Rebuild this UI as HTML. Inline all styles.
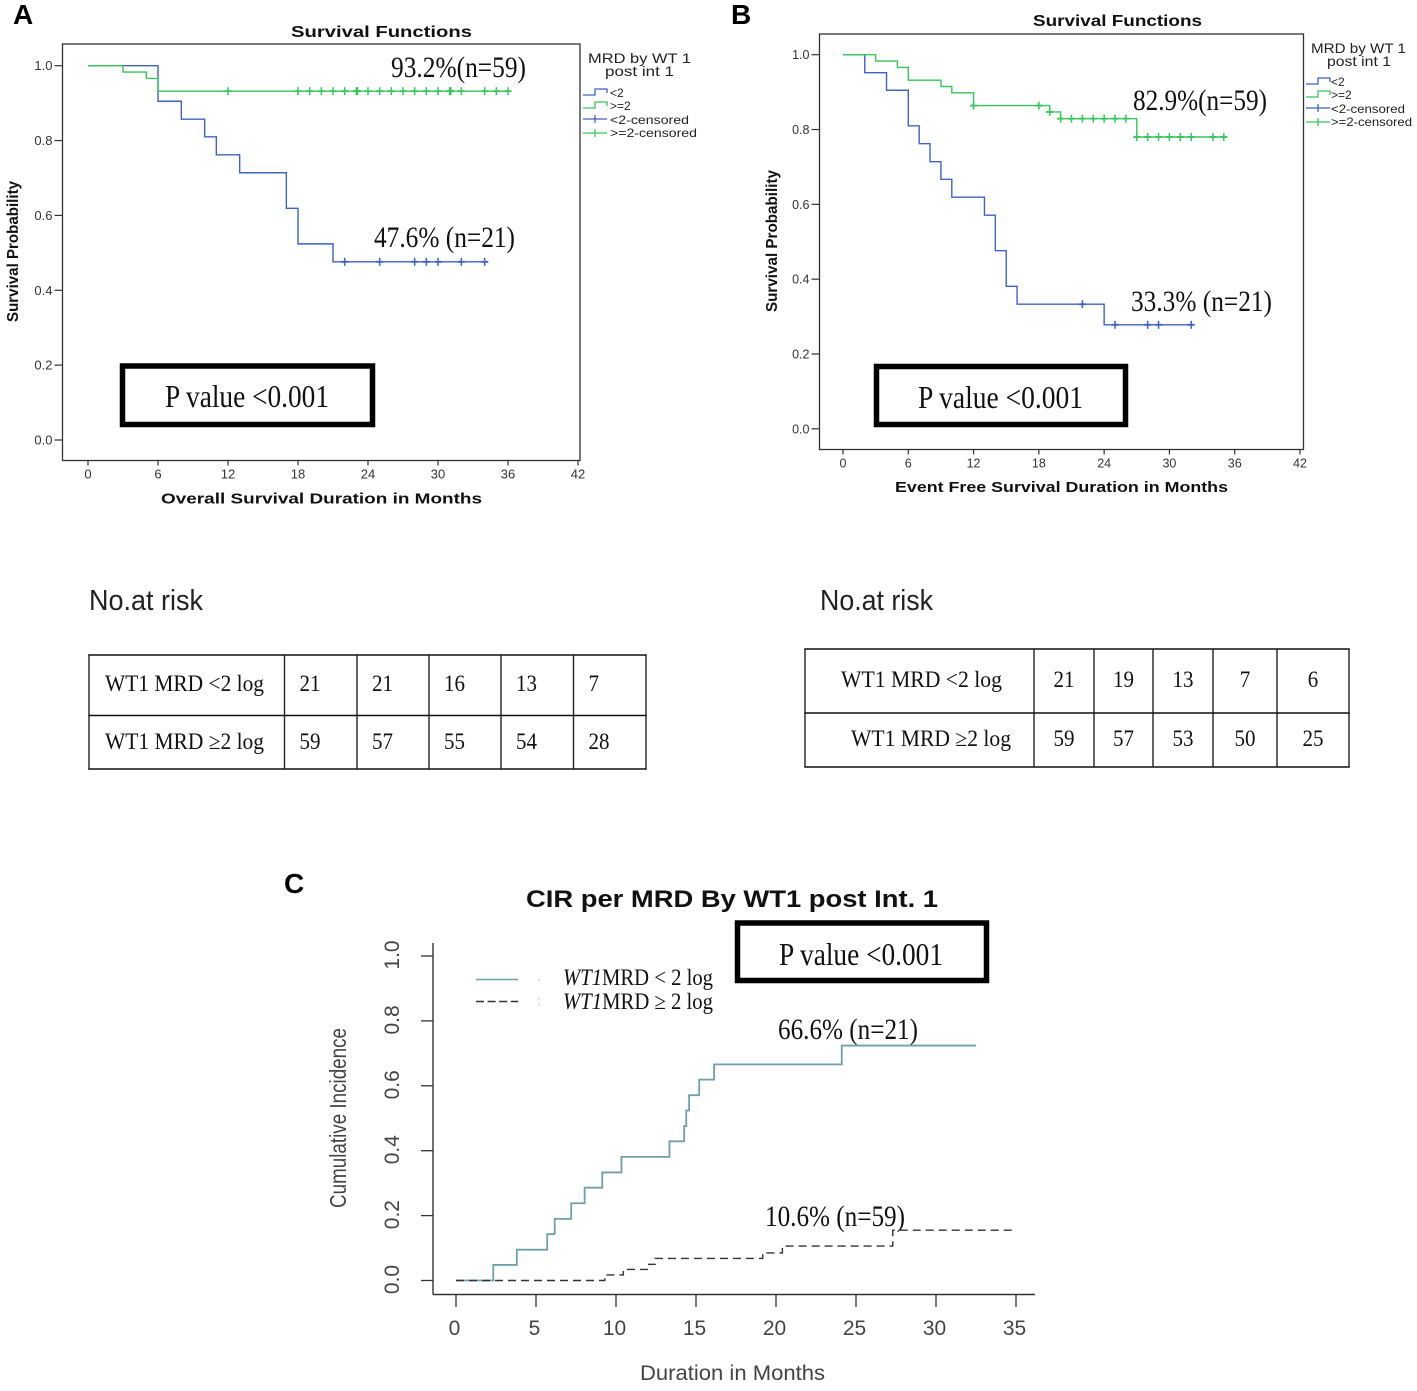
<!DOCTYPE html>
<html lang="en">
<head>
<meta charset="utf-8">
<title>Survival and cumulative incidence by WT1 MRD</title>
<style>
html,body{margin:0;padding:0;background:#fff;width:1417px;height:1391px;overflow:hidden}
svg{display:block}
text{font-family:"Liberation Sans",sans-serif;fill:#111}
.serif{font-family:"Liberation Serif",serif}
.b{font-weight:bold}
.leg{font-size:12px;fill:#222}
.legt{font-size:14px;fill:#222}
</style>
</head>
<body>
<svg id="page" xmlns="http://www.w3.org/2000/svg" width="1417" height="1391" viewBox="0 0 1417 1391">
  <rect x="0" y="0" width="1417" height="1391" fill="#fff"/>

  <!-- Panel A -->
  <g id="panelA">
    <text class="b" x="13" y="24" font-size="28" style="fill:#000">A</text>
    <text class="b" x="291" y="37" font-size="16" textLength="181" lengthAdjust="spacingAndGlyphs">Survival Functions</text>
    <rect x="62.5" y="44" width="517.5" height="416.5" fill="none" stroke="#333" stroke-width="1.3"/>
    <text class="b" x="161" y="503.5" font-size="15" textLength="321" lengthAdjust="spacingAndGlyphs">Overall Survival Duration in Months</text>
    <text class="b" transform="translate(18,322) rotate(-90)" font-size="16" textLength="141" lengthAdjust="spacingAndGlyphs">Survival Probability</text>
    <text class="serif" x="391" y="77" font-size="30" textLength="135" lengthAdjust="spacingAndGlyphs">93.2%(n=59)</text>
    <text class="serif" x="374" y="247" font-size="30" textLength="141" lengthAdjust="spacingAndGlyphs">47.6% (n=21)</text>
    <rect x="122.5" y="366" width="250" height="58.5" fill="#fff" stroke="#000" stroke-width="5.5"/>
    <text class="serif" x="165" y="407" font-size="32" textLength="164" lengthAdjust="spacingAndGlyphs">P value &lt;0.001</text>
    <text class="legt" x="588" y="63" textLength="103" lengthAdjust="spacingAndGlyphs">MRD by WT 1</text>
    <text class="legt" x="605" y="76" textLength="69" lengthAdjust="spacingAndGlyphs">post int 1</text>
    <text class="leg" x="610" y="97">&lt;2</text>
    <text class="leg" x="610" y="110">&gt;=2</text>
    <text class="leg" x="610" y="124" textLength="79" lengthAdjust="spacingAndGlyphs">&lt;2-censored</text>
    <text class="leg" x="610" y="137" textLength="87" lengthAdjust="spacingAndGlyphs">&gt;=2-censored</text>
  </g>

  <!-- Panel B -->
  <g id="panelB">
    <text class="b" x="731" y="24" font-size="28" style="fill:#000">B</text>
    <text class="b" x="1033" y="26" font-size="16" textLength="169" lengthAdjust="spacingAndGlyphs">Survival Functions</text>
    <rect x="819.5" y="34" width="484" height="415.5" fill="none" stroke="#333" stroke-width="1.3"/>
    <text class="b" x="895" y="492" font-size="15" textLength="333" lengthAdjust="spacingAndGlyphs">Event Free Survival Duration in Months</text>
    <text class="b" transform="translate(777,312) rotate(-90)" font-size="16" textLength="142" lengthAdjust="spacingAndGlyphs">Survival Probability</text>
    <text class="serif" x="1133" y="110" font-size="30" textLength="134" lengthAdjust="spacingAndGlyphs">82.9%(n=59)</text>
    <text class="serif" x="1131" y="311" font-size="30" textLength="141" lengthAdjust="spacingAndGlyphs">33.3% (n=21)</text>
    <rect x="876.5" y="366.5" width="249" height="58" fill="#fff" stroke="#000" stroke-width="5.5"/>
    <text class="serif" x="918" y="408" font-size="32" textLength="165" lengthAdjust="spacingAndGlyphs">P value &lt;0.001</text>
    <text class="legt" x="1311" y="53" textLength="95" lengthAdjust="spacingAndGlyphs">MRD by WT 1</text>
    <text class="legt" x="1327" y="66" textLength="64" lengthAdjust="spacingAndGlyphs">post int 1</text>
    <text class="leg" x="1331" y="86">&lt;2</text>
    <text class="leg" x="1331" y="99">&gt;=2</text>
    <text class="leg" x="1331" y="113" textLength="74" lengthAdjust="spacingAndGlyphs">&lt;2-censored</text>
    <text class="leg" x="1331" y="126" textLength="81" lengthAdjust="spacingAndGlyphs">&gt;=2-censored</text>
  </g>

  <!-- Tables -->
  <g id="tables">
    <text x="89" y="610" font-size="29" textLength="114" lengthAdjust="spacingAndGlyphs" style="fill:#222">No.at risk</text>
    <text x="820" y="610" font-size="29" textLength="113" lengthAdjust="spacingAndGlyphs" style="fill:#222">No.at risk</text>
    <text class="serif" x="105" y="691" font-size="23" textLength="159" lengthAdjust="spacingAndGlyphs">WT1 MRD &lt;2 log</text>
    <text class="serif" x="105" y="749" font-size="23" textLength="159" lengthAdjust="spacingAndGlyphs">WT1 MRD ≥2 log</text>
    <text class="serif" x="841" y="687" font-size="23" textLength="161" lengthAdjust="spacingAndGlyphs">WT1 MRD &lt;2 log</text>
    <text class="serif" x="851" y="746" font-size="23" textLength="160" lengthAdjust="spacingAndGlyphs">WT1 MRD ≥2 log</text>
  </g>

  <!-- Panel C -->
  <g id="panelC">
    <text class="b" x="284" y="893" font-size="28" style="fill:#000">C</text>
    <text class="b" x="526" y="907" font-size="24" textLength="412" lengthAdjust="spacingAndGlyphs">CIR per MRD By WT1 post Int. 1</text>
    <rect x="737.5" y="923" width="249" height="57.5" fill="#fff" stroke="#000" stroke-width="5.5"/>
    <text class="serif" x="779" y="965" font-size="32" textLength="164" lengthAdjust="spacingAndGlyphs">P value &lt;0.001</text>
    <text x="640" y="1380" font-size="21" textLength="185" lengthAdjust="spacingAndGlyphs" style="fill:#444">Duration in Months</text>
    <text transform="translate(346,1208) rotate(-90)" font-size="23" textLength="180" lengthAdjust="spacingAndGlyphs" style="fill:#444">Cumulative Incidence</text>
    <line x1="476" y1="979.5" x2="518" y2="979.5" stroke="#6f9fa8" stroke-width="1.6"/>
    <line x1="476" y1="1001.5" x2="518" y2="1001.5" stroke="#333" stroke-width="1.4" stroke-dasharray="8 3.6"/>
    <rect x="538.5" y="979" width="1.2" height="1.2" fill="#aaa"/>
    <rect x="538.5" y="998" width="1.2" height="1.2" fill="#aaa"/>
    <rect x="538.5" y="1004" width="1.2" height="1.2" fill="#aaa"/>
    <text class="serif" x="563" y="985" font-size="23" textLength="150" lengthAdjust="spacingAndGlyphs"><tspan font-style="italic">WT1</tspan>MRD &lt; 2 log</text>
    <text class="serif" x="563" y="1009" font-size="23" textLength="150" lengthAdjust="spacingAndGlyphs"><tspan font-style="italic">WT1</tspan>MRD ≥ 2 log</text>
    <text class="serif" x="778" y="1039" font-size="30" textLength="140" lengthAdjust="spacingAndGlyphs">66.6% (n=21)</text>
    <text class="serif" x="765" y="1226" font-size="30" textLength="140" lengthAdjust="spacingAndGlyphs">10.6% (n=59)</text>
  </g>
</svg>

<script>
// ---- Panel A data (overall survival) ----
const aLowTimes = [0, 6, 8, 10, 11, 13, 17, 18, 21];
const aLowValues = [1, 0.905, 0.857, 0.81, 0.762, 0.714, 0.619, 0.524, 0.476];
const aLowEnd = 34.3;
const aLowCensored = [22, 25, 28, 29, 30, 32, 34];
const aHighTimes = [0, 3, 5, 6];
const aHighValues = [1, 0.983, 0.966, 0.932];
const aHighEnd = 36.2;
const aHighCensored = [12, 18, 19, 20, 21, 22, 23, 23.1, 24, 25, 26, 27, 28, 29, 30, 31, 31.1, 32, 34, 35, 36];

// ---- Panel B data (event free survival) ----
const bLowTimes = [0, 2, 4, 6, 7, 8, 9, 10, 13, 14, 15, 16, 24];
const bLowValues = [1, 0.952, 0.905, 0.81, 0.762, 0.714, 0.667, 0.619, 0.571, 0.476, 0.381, 0.333, 0.278];
const bLowEnd = 32.3;
const bLowCensored = [22, 25, 28, 29, 32];
const bHighTimes = [0, 3, 5, 6, 9, 10, 12, 19, 20, 27];
const bHighValues = [1, 0.983, 0.966, 0.932, 0.915, 0.898, 0.864, 0.847, 0.829, 0.78];
const bHighEnd = 35.3;
const bHighCensored = [12, 18, 19, 20, 21, 22, 23, 24, 25, 26, 27, 28, 29, 30, 31, 32, 34, 35];

// ---- Panel C data (cumulative incidence) ----
const cLowTimes = [0, 2.33, 3.8, 5.7, 6.17, 7.2, 8.04, 9.14, 10.34, 13.34, 14.26, 14.39, 14.57, 15.2, 16.13, 24.11];
const cLowValues = [0, 0.048, 0.095, 0.143, 0.19, 0.238, 0.286, 0.333, 0.381, 0.429, 0.476, 0.524, 0.571, 0.619, 0.666, 0.724];
const cLowEnd = 32.5;
const cHighTimes = [0, 9.3, 10.46, 12.05, 12.45, 19.17, 20.4, 27.3];
const cHighValues = [0, 0.017, 0.034, 0.05, 0.068, 0.085, 0.106, 0.155];
const cHighEnd = 34.75;

// ---- Tick labels ----
const kmXTicks = [0, 6, 12, 18, 24, 30, 36, 42];
const kmYTicks = ['0.0', '0.2', '0.4', '0.6', '0.8', '1.0'];
const cXTicks = [0, 5, 10, 15, 20, 25, 30, 35];
const cYTicks = ['0.0', '0.2', '0.4', '0.6', '0.8', '1.0'];

// ---- At-risk tables ----
const tableALow = [21, 21, 16, 13, 7];
const tableAHigh = [59, 57, 55, 54, 28];
const tableBLow = [21, 19, 13, 7, 6];
const tableBHigh = [59, 57, 53, 50, 25];

const NS = 'http://www.w3.org/2000/svg';
const BLUE = '#3f62c4';
const GREEN = '#38c65c';

function linear(d0, d1, r0, r1) {
  return function (v) { return r0 + (v - d0) * (r1 - r0) / (d1 - d0); };
}
const xA = linear(0, 42, 88, 578);
const yA = linear(0, 1, 440, 65.7);
const xB = linear(0, 42, 843, 1300);
const yB = linear(0, 1, 428.8, 54.7);
const xC = linear(0, 35, 456, 1016);
const yC = linear(0, 1, 1280.5, 956);

function make(parent, tag, attrs) {
  const el = document.createElementNS(NS, tag);
  for (const k in attrs) { el.setAttribute(k, attrs[k]); }
  parent.appendChild(el);
  return el;
}
function addLine(parent, name, x1, y1, x2, y2, stroke, width, dash) {
  const el = make(parent, 'line', { x1: x1, y1: y1, x2: x2, y2: y2, stroke: stroke, 'stroke-width': width });
  if (dash) { el.setAttribute('stroke-dasharray', dash); }
  
  
  return el;
}
function addText(parent, name, str, x, y, size, anchor, fill, transform, cls) {
  const el = make(parent, 'text', { x: x, y: y, 'font-size': size, 'text-anchor': anchor });
  el.style.fill = fill;
  if (transform) { el.setAttribute('transform', transform); }
  if (cls) { el.setAttribute('class', cls); }
  el.textContent = str;
  
  
  return el;
}
function stepPathData(times, values, end, x, y) {
  let d = 'M' + x(times[0]) + ' ' + y(values[0]);
  for (let i = 1; i < times.length; i++) {
    d += 'H' + x(times[i]) + 'V' + y(values[i]);
  }
  return d + 'H' + x(end);
}
function addStep(parent, name, times, values, end, x, y, stroke, width, dash) {
  const el = make(parent, 'path', { d: stepPathData(times, values, end, x, y), fill: 'none', stroke: stroke, 'stroke-width': width });
  if (dash) { el.setAttribute('stroke-dasharray', dash); }
  
  
  return el;
}
function valueAt(times, values, t) {
  let v = values[0];
  for (let i = 0; i < times.length; i++) { if (times[i] <= t) { v = values[i]; } }
  return v;
}
function addCensors(parent, name, cens, times, values, x, y, stroke) {
  cens.forEach(function (t) {
    const v = valueAt(times, values, t);
    addLine(parent, name, x(t), y(v) - 4, x(t), y(v) + 4, stroke, 1.5);
    addLine(parent, name, x(t) - 3.5, y(v), x(t) + 3.5, y(v), stroke, 1.9);
  });
}
function kmAxes(parent, prefix, x, y, frameLeft, frameBottom, tickSize, xLabelY) {
  kmXTicks.forEach(function (t) {
    addLine(parent, prefix + '-x-tick', x(t), frameBottom, x(t), frameBottom + 5, '#333', 1.2);
    addText(parent, prefix + '-x-tick-label', String(t), x(t), xLabelY, tickSize, 'middle', '#333');
  });
  kmYTicks.forEach(function (label) {
    const v = parseFloat(label);
    addLine(parent, prefix + '-y-tick', frameLeft - 8, y(v), frameLeft, y(v), '#333', 1.2);
    addText(parent, prefix + '-y-tick-label', label, frameLeft - 10, y(v) + 4.5, tickSize, 'end', '#333');
  });
}
function legendStep(parent, name, lx, ly, stroke) {
  const el = make(parent, 'path', {
    d: 'M' + lx + ' ' + (ly + 3) + 'H' + (lx + 12) + 'V' + (ly - 3) + 'H' + (lx + 24) + 'V' + (ly + 1),
    fill: 'none', stroke: stroke, 'stroke-width': 1.3
  });
  
  
}
function legendCensor(parent, name, lx, ly, stroke) {
  addLine(parent, name, lx, ly, lx + 24, ly, stroke, 1.3);
  addLine(parent, name, lx + 12, ly - 4, lx + 12, ly + 4, stroke, 1.3);
}

// Panel A
const gA = document.getElementById('panelA');
kmAxes(gA, 'panel-a', xA, yA, 62.5, 460.5, 13, 478.5);
addStep(gA, 'panel-a-curve-low', aLowTimes, aLowValues, aLowEnd, xA, yA, BLUE, 1.4);
addCensors(gA, 'panel-a-censor-low', aLowCensored, aLowTimes, aLowValues, xA, yA, BLUE);
addStep(gA, 'panel-a-curve-high', aHighTimes, aHighValues, aHighEnd, xA, yA, GREEN, 1.4);
addCensors(gA, 'panel-a-censor-high', aHighCensored, aHighTimes, aHighValues, xA, yA, GREEN);
legendStep(gA, 'panel-a-legend-swatch-low', 583, 92, BLUE);
legendStep(gA, 'panel-a-legend-swatch-high', 583, 105, GREEN);
legendCensor(gA, 'panel-a-legend-swatch-low-censored', 583, 119, BLUE);
legendCensor(gA, 'panel-a-legend-swatch-high-censored', 583, 133, GREEN);

// Panel B
const gB = document.getElementById('panelB');
kmAxes(gB, 'panel-b', xB, yB, 819.5, 449.5, 12.5, 467.5);
addStep(gB, 'panel-b-curve-low', bLowTimes, bLowValues, bLowEnd, xB, yB, BLUE, 1.4);
addCensors(gB, 'panel-b-censor-low', bLowCensored, bLowTimes, bLowValues, xB, yB, BLUE);
addStep(gB, 'panel-b-curve-high', bHighTimes, bHighValues, bHighEnd, xB, yB, GREEN, 1.4);
addCensors(gB, 'panel-b-censor-high', bHighCensored, bHighTimes, bHighValues, xB, yB, GREEN);
legendStep(gB, 'panel-b-legend-swatch-low', 1306, 81, BLUE);
legendStep(gB, 'panel-b-legend-swatch-high', 1306, 94, GREEN);
legendCensor(gB, 'panel-b-legend-swatch-low-censored', 1306, 108, BLUE);
legendCensor(gB, 'panel-b-legend-swatch-high-censored', 1306, 122, GREEN);

// Panel C
const gC = document.getElementById('panelC');
addLine(gC, 'panel-c-y-axis', 433, 943, 433, 1294.5, '#333', 1.4);
addLine(gC, 'panel-c-x-axis', 433, 1294.5, 1035, 1294.5, '#333', 1.4);
cXTicks.forEach(function (t) {
  addLine(gC, 'panel-c-x-tick', xC(t), 1294.5, xC(t), 1307, '#333', 1.3);
  addText(gC, 'panel-c-x-tick-label', String(t), xC(t) - 1.5, 1335, 21, 'middle', '#444');
});
cYTicks.forEach(function (label) {
  const v = parseFloat(label);
  addLine(gC, 'panel-c-y-tick', 421, yC(v), 433, yC(v), '#333', 1.3);
  const py = yC(v) - 1;
  addText(gC, 'panel-c-y-tick-label', label, 399, py, 21, 'middle', '#444', 'rotate(-90 399 ' + py + ')');
});
addStep(gC, 'panel-c-curve-low', cLowTimes, cLowValues, cLowEnd, xC, yC, '#6f9fa8', 1.8);
addStep(gC, 'panel-c-curve-high', cHighTimes, cHighValues, cHighEnd, xC, yC, '#333', 1.4, '8 5');

// Tables
const gT = document.getElementById('tables');
function drawTable(name, cols, rows, lowVals, highVals, textRows, centered) {
  cols.forEach(function (cx) {
    addLine(gT, name + '-column-rule', cx, rows[0], cx, rows[rows.length - 1], '#222', 1.4);
  });
  rows.forEach(function (ry) {
    addLine(gT, name + '-row-rule', cols[0] - 0.7, ry, cols[cols.length - 1] + 0.7, ry, '#111', 1.6);
  });
  [lowVals, highVals].forEach(function (vals, r) {
    vals.forEach(function (val, i) {
      const cx = centered ? (cols[i + 1] + cols[i + 2]) / 2 : cols[i + 1] + 15;
      const cell = addText(gT, name + '-cell', String(val), cx, textRows[r], 23, centered ? 'middle' : 'start', '#111', null, 'serif');
      cell.setAttribute('textLength', String(val).length * 10.5);
      cell.setAttribute('lengthAdjust', 'spacingAndGlyphs');
    });
  });
}
drawTable('table-a', [89, 284.5, 357, 429, 501, 573.5, 646], [655, 715.5, 769], tableALow, tableAHigh, [691, 749], false);
drawTable('table-b', [805, 1034, 1094, 1153, 1213, 1277, 1349], [649, 713, 767], tableBLow, tableBHigh, [687, 746], true);
</script>
</body>
</html>
